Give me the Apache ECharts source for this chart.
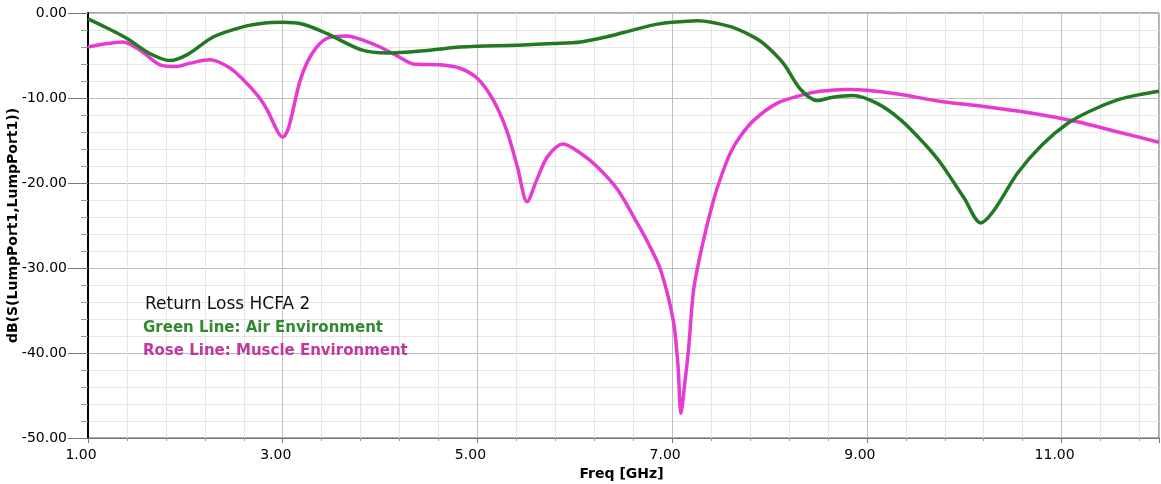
<!DOCTYPE html>
<html>
<head>
<meta charset="utf-8">
<title>Return Loss HCFA 2</title>
<script src="https://cdn.jsdelivr.net/npm/echarts@6.0.0/dist/echarts.min.js"></script>
<style>
  html, body { margin: 0; padding: 0; background: #fff; }
  #chart { width: 1161px; height: 484px; }
</style>
</head>
<body>
<div id="chart"></div>
<script>
// Green line: air environment
const airFreq = [1.0, 1.2, 1.4, 1.64, 1.84, 2.02, 2.29, 2.6, 2.8, 3.0, 3.2, 3.45, 3.8, 4.07, 4.48, 4.82,
  5.0, 5.4, 5.78, 6.06, 6.33, 6.5, 6.81, 7.0, 7.26, 7.6, 7.8, 7.94, 8.14, 8.32, 8.49, 8.65, 8.85,
  9.1, 9.35, 9.6, 9.76, 10.0, 10.17, 10.3, 10.55, 10.8, 11.06, 11.3, 11.58, 11.8, 12.0]
const airDb = [-0.7, -1.8, -3.0, -4.8, -5.6, -4.9, -2.8, -1.6, -1.2, -1.1, -1.3, -2.4, -4.3, -4.7, -4.4, -4.0,
  -3.9, -3.8, -3.6, -3.4, -2.8, -2.3, -1.4, -1.1, -0.9, -1.6, -2.6, -3.6, -5.9, -9.0, -10.3, -9.9, -9.7,
  -10.6, -12.6, -15.5, -17.7, -21.8, -24.7, -23.3, -18.8, -15.5, -13.0, -11.5, -10.2, -9.6, -9.2]

// Rose line: muscle environment
const muscleFreq = [1.0, 1.2, 1.36, 1.55, 1.74, 1.9, 2.05, 2.25, 2.45, 2.6, 2.75, 2.84, 2.95, 3.0, 3.06,
  3.18, 3.3, 3.45, 3.66, 3.85, 4.0, 4.2, 4.34, 4.62, 4.82, 5.0, 5.16, 5.3, 5.41, 5.51, 5.61, 5.72,
  5.88, 6.06, 6.23, 6.44, 6.64, 6.75, 6.88, 7.01, 7.06, 7.09, 7.13, 7.17, 7.22, 7.31, 7.42, 7.51,
  7.6, 7.7, 7.84, 8.08, 8.35, 8.52, 8.8, 9.0, 9.35, 9.76, 10.2, 10.7, 11.16, 11.58, 12.0]
const muscleDb = [-4.0, -3.6, -3.4, -4.5, -6.1, -6.3, -5.9, -5.5, -6.4, -7.9, -9.8, -11.4, -14.0, -14.6, -13.5,
  -7.9, -4.8, -3.0, -2.7, -3.3, -4.0, -5.2, -6.0, -6.1, -6.5, -7.7, -10.2, -13.8, -18.1, -22.2, -19.6, -16.9,
  -15.4, -16.5, -18.1, -20.8, -24.7, -27.0, -30.2, -36.1, -41.5, -47.1, -43.5, -39.3, -32.6, -27.3, -22.2, -19.0,
  -16.4, -14.5, -12.6, -10.6, -9.6, -9.2, -9.0, -9.1, -9.6, -10.4, -11.0, -11.8, -12.8, -14.0, -15.2]

// axis ticks
const freqMin = 1
const freqMax = 12
const freqStep = 2
const dbMin = -50
const dbMax = 0
const dbStep = 10

const noteLines = ['Return Loss HCFA 2', 'Green Line: Air Environment', 'Rose Line: Muscle Environment']

const zip = (xs, ys) => xs.map((x, i) => [x, ys[i]])

const chart = echarts.init(document.getElementById('chart'), null, { renderer: 'canvas' })

const font = '"DejaVu Sans", Arial, sans-serif'

const option = {
  animation: false,
  backgroundColor: '#fff',
  textStyle: { fontFamily: font },
  grid: {
    left: 88,
    right: 2,
    top: 13,
    bottom: 46,
    show: true,
    borderColor: '#555',
    borderWidth: 1,
    containLabel: false,
    outerBoundsMode: 'none'
  },
  xAxis: [
    {
      // the axis the curves are drawn on
      type: 'value',
      min: freqMin,
      max: freqMax,
      show: false
    },
    {
      // display axis, counted from 0 so that the grid falls on 1, 3, 5 ...
      type: 'value',
      min: 0,
      max: freqMax - freqMin,
      interval: freqStep,
      position: 'bottom',
      name: 'Freq [GHz]',
      nameLocation: 'middle',
      nameGap: 24,
      nameTextStyle: { color: '#000', fontSize: 14, fontWeight: 'bold', padding: [0, 4, 0, 0] },
      axisLine: { show: true, lineStyle: { color: '#777', width: 1 } },
      axisTick: { show: true, length: 5, lineStyle: { color: '#777' } },
      minorTick: { show: true, splitNumber: 5, length: 3, lineStyle: { color: '#999' } },
      axisLabel: {
        color: '#000',
        fontSize: 14,
        margin: 10,
        padding: [0, 14, 0, 0],
        showMaxLabel: false,
        formatter: v => (v + freqMin).toFixed(2)
      },
      splitLine: { show: true, lineStyle: { color: '#bdbdbd', width: 1 } },
      minorSplitLine: { show: true, lineStyle: { color: '#e6e6e6', width: 1 } }
    }
  ],
  yAxis: {
    type: 'value',
    min: dbMin,
    max: dbMax,
    interval: dbStep,
    name: 'dB(S(LumpPort1,LumpPort1))',
    nameLocation: 'middle',
    nameRotate: 90,
    nameGap: 68,
    nameMoveOverlap: false,
    nameTextStyle: { color: '#000', fontSize: 14, fontWeight: 'bold' },
    axisLine: { show: true, lineStyle: { color: '#000', width: 2 } },
    axisTick: { show: true, inside: false, length: 20, lineStyle: { color: '#777' } },
    minorTick: { show: true, splitNumber: 5, length: 7, lineStyle: { color: '#999' } },
    axisLabel: {
      color: '#000',
      fontSize: 14,
      margin: 21,
      formatter: v => v.toFixed(2)
    },
    splitLine: { show: true, lineStyle: { color: '#bdbdbd', width: 1 } },
    minorSplitLine: { show: true, lineStyle: { color: '#e6e6e6', width: 1 } }
  },
  graphic: [
    {
      type: 'text',
      left: 145,
      top: 296,
      z: 100,
      style: { text: noteLines[0], fill: '#111', font: '17px ' + font }
    },
    {
      type: 'text',
      left: 143,
      top: 321,
      z: 100,
      style: { text: noteLines[1], fill: '#2f8a2f', font: 'bold 15px ' + font }
    },
    {
      type: 'text',
      left: 143,
      top: 344,
      z: 100,
      style: { text: noteLines[2], fill: '#c4369f', font: 'bold 15px ' + font }
    }
  ],
  series: [
    {
      name: 'Air Environment',
      type: 'line',
      xAxisIndex: 0,
      data: zip(airFreq, airDb),
      smooth: 0.3,
      showSymbol: false,
      lineStyle: { color: '#217a21', width: 3.5 },
      z: 3
    },
    {
      name: 'Muscle Environment',
      type: 'line',
      xAxisIndex: 0,
      data: zip(muscleFreq, muscleDb),
      smooth: 0.3,
      showSymbol: false,
      lineStyle: { color: '#e63ad0', width: 3.5 },
      z: 2
    }
  ]
}

chart.setOption(option)
</script>
</body>
</html>
